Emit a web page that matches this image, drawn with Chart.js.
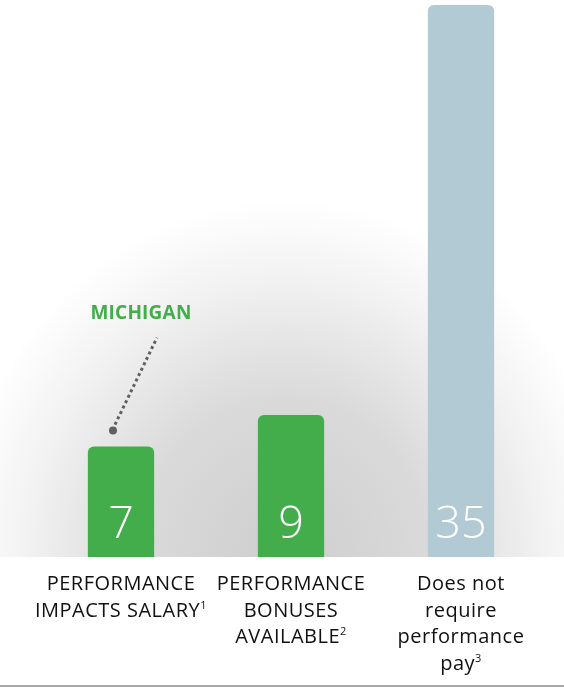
<!DOCTYPE html>
<html>
<head>
<meta charset="utf-8">
<script src="https://cdn.jsdelivr.net/npm/chart.js@4"></script>
<style>
  html, body { margin: 0; padding: 0; background: #ffffff; }
  #wrap { width: 564px; height: 689px; position: relative; }
</style>
</head>
<body>
<div id="wrap"><canvas id="payChart"></canvas></div>
<script>
const categories = [
  ["PERFORMANCE", "IMPACTS SALARY"],
  ["PERFORMANCE", "BONUSES", "AVAILABLE"],
  ["Does not", "require", "performance", "pay"],
];
const footnotes = ["1", "2", "3"];
const stateCounts = [7, 9, 35];
const barColors = ["#43ad4b", "#43ad4b", "#b2cad4"];
const highlightLabel = "MICHIGAN";

// soft grey glow behind the bars, cut off at the baseline
const glow = {
  id: "glow",
  beforeDraw(chart) {
    const { ctx, chartArea } = chart;
    const cx = 285, cy = chartArea.bottom;
    ctx.save();
    ctx.beginPath();
    ctx.rect(0, 0, chart.width, chartArea.bottom);
    ctx.clip();
    ctx.translate(cx, cy);
    ctx.scale(1, 1.08);
    const g = ctx.createRadialGradient(0, 0, 0, 0, 0, 330);
    g.addColorStop(0, "#cecece");
    g.addColorStop(0.45, "#dadada");
    g.addColorStop(0.8, "#f3f3f3");
    g.addColorStop(1, "#ffffff");
    ctx.fillStyle = g;
    ctx.fillRect(-cx, -cy / 1.08, chart.width, cy / 1.08);
    ctx.restore();
  },
};

const labels = {
  id: "labels",
  afterDraw(chart) {
    const { ctx, chartArea } = chart;
    const xs = chart.scales.x;
    const ys = chart.scales.y;
    ctx.save();

    // values inside the bars
    ctx.fillStyle = "#ffffff";
    ctx.font = "300 45px 'Open Sans'";
    ctx.textAlign = "center";
    ctx.textBaseline = "alphabetic";
    stateCounts.forEach((v, i) => {
      ctx.fillText(String(v), xs.getPixelForValue(i), chartArea.bottom - 19);
    });

    // category names with footnote marks
    const mainFont = "20px 'Open Sans'";
    const supFont = "11px 'Open Sans'";
    ctx.letterSpacing = "0.5px";
    categories.forEach((lines, i) => {
      const x = xs.getPixelForValue(i);
      lines.forEach((line, j) => {
        const y = chartArea.bottom + 33 + j * 26.5;
        ctx.fillStyle = "#111111";
        if (j === lines.length - 1) {
          ctx.font = mainFont;
          const w = ctx.measureText(line).width;
          ctx.font = supFont;
          const sw = ctx.measureText(footnotes[i]).width;
          const left = x - (w + sw) / 2;
          ctx.textAlign = "left";
          ctx.font = mainFont;
          ctx.fillText(line, left, y);
          ctx.font = supFont;
          ctx.fillText(footnotes[i], left + w, y - 8);
        } else {
          ctx.textAlign = "center";
          ctx.font = mainFont;
          ctx.fillText(line, x, y);
        }
      });
    });

    // callout for the first bar
    const bx = xs.getPixelForValue(0);
    const top = ys.getPixelForValue(stateCounts[0]);
    const dx = bx - 8, dy = top - 16;
    ctx.fillStyle = "#5f6062";
    ctx.beginPath();
    ctx.arc(dx, dy, 4, 0, Math.PI * 2);
    ctx.fill();
    ctx.strokeStyle = "#5f6062";
    ctx.lineWidth = 3;
    ctx.setLineDash([3, 3]);
    ctx.beginPath();
    ctx.moveTo(dx + 2, dy - 6);
    ctx.lineTo(bx + 36, top - 109);
    ctx.stroke();
    ctx.setLineDash([]);
    ctx.fillStyle = "#43ad4b";
    ctx.font = "bold 19px 'Open Sans'";
    ctx.letterSpacing = "0.2px";
    ctx.textAlign = "center";
    ctx.fillText(highlightLabel, bx + 20, top - 128);
    ctx.letterSpacing = "0px";

    // rule at the bottom
    ctx.strokeStyle = "#8c8c8c";
    ctx.lineWidth = 1.5;
    ctx.beginPath();
    ctx.moveTo(0, chart.height - 3);
    ctx.lineTo(chart.width, chart.height - 3);
    ctx.stroke();
    ctx.restore();
  },
};

const ctx = document.getElementById("payChart");

new Chart(ctx, {
  type: "bar",
  data: {
    labels: categories.map((c) => c.join(" ")),
    datasets: [
      {
        data: stateCounts,
        backgroundColor: barColors,
        borderRadius: { topLeft: 6, topRight: 6 },
        borderSkipped: "bottom",
        categoryPercentage: 1,
        barPercentage: 0.39,
      },
    ],
  },
  options: {
    responsive: true,
    maintainAspectRatio: false,
    animation: false,
    layout: {
      padding: { top: 5, bottom: 132, left: 36, right: 18 },
    },
    plugins: {
      legend: { display: false },
      tooltip: { enabled: false },
    },
    scales: {
      x: { display: false },
      y: { display: false, min: 0, max: 35 },
    },
  },
  plugins: [glow, labels],
});
</script>
</body>
</html>
